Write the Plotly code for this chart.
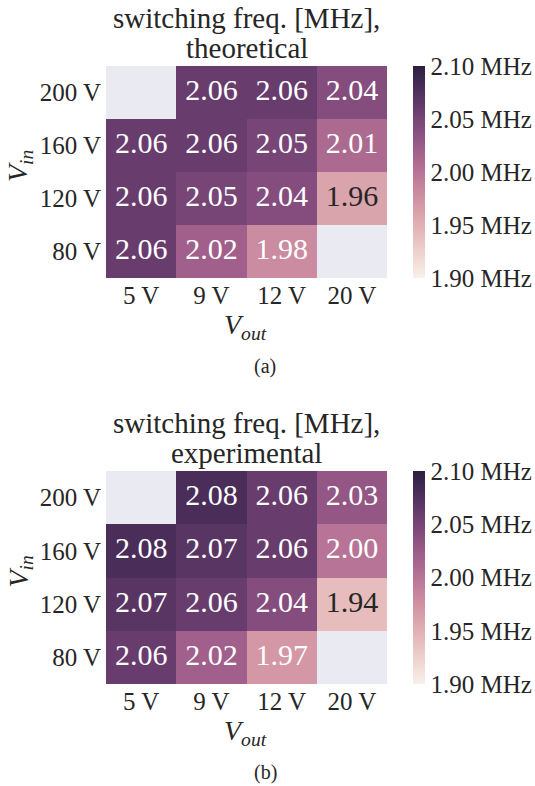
import numpy as np
import plotly.graph_objects as go

# ---------------- data ----------------
vout = ["5 V", "9 V", "12 V", "20 V"]
vin = ["80 V", "120 V", "160 V", "200 V"]  # bottom -> top

theoretical = [
    [2.06, 2.02, 1.98, None],   # 80 V
    [2.06, 2.05, 2.04, 1.96],   # 120 V
    [2.06, 2.06, 2.05, 2.01],   # 160 V
    [None, 2.06, 2.06, 2.04],   # 200 V
]
experimental = [
    [2.06, 2.02, 1.97, None],   # 80 V
    [2.07, 2.06, 2.04, 1.94],   # 120 V
    [2.08, 2.07, 2.06, 2.00],   # 160 V
    [None, 2.08, 2.06, 2.03],   # 200 V
]
cbar_vals = [1.90, 1.95, 2.00, 2.05, 2.10]
cbar_text = ["1.90 MHz", "1.95 MHz", "2.00 MHz", "2.05 MHz", "2.10 MHz"]
ZMIN, ZMAX = 1.90, 2.10

# ---------------- colormap (seaborn-like cubehelix) ----------------
def cubehelix_rgb(x, start=0.0, rot=0.4, gamma=1.0, hue=0.8):
    xg = x ** gamma
    a = hue * xg * (1 - xg) / 2
    phi = 2 * np.pi * (start / 3 + rot * x)
    r = xg + a * (-0.14861 * np.cos(phi) + 1.78277 * np.sin(phi))
    g = xg + a * (-0.29227 * np.cos(phi) - 0.90649 * np.sin(phi))
    b = xg + a * (1.97294 * np.cos(phi))
    return [float(np.clip(c, 0, 1)) for c in (r, g, b)]

LIGHT, DARK = 0.95, 0.15

def frac_to_rgb(f):
    return cubehelix_rgb(LIGHT - f * (LIGHT - DARK))

stops = np.linspace(0, 1, 21)
colorscale = []
for s in stops:
    r, g, b = frac_to_rgb(s)
    colorscale.append([float(s), f"rgb({r*255:.0f},{g*255:.0f},{b*255:.0f})"])

def lum(rgb):
    lin = [c / 12.92 if c <= 0.03928 else ((c + 0.055) / 1.055) ** 2.4 for c in rgb]
    return 0.2126 * lin[0] + 0.7152 * lin[1] + 0.0722 * lin[2]

W, H = 535, 786
def px(x):
    return x / W
def py(y):
    return 1 - y / H

FONT = "Liberation Serif, Times New Roman, serif"
TXT = "#262626"

fig = go.Figure()

panels = [
    (theoretical, "x", "y", 66, 278, "theoretical", "(a)"),
    (experimental, "x2", "y2", 471, 684, "experimental", "(b)"),
]

annotations = []
for data, xa, ya, top, bot, sub, lab in panels:
    z = [[np.nan if v is None else v for v in row] for row in data]
    fig.add_trace(go.Heatmap(
        x=vout, y=vin, z=z, xaxis=xa, yaxis=ya,
        zmin=ZMIN, zmax=ZMAX, colorscale=colorscale, hoverongaps=False,
        colorbar=dict(
            x=px(413), xanchor="left", xpad=0, ypad=0,
            y=py((top + bot) / 2), yanchor="middle",
            len=(bot - top) / H, lenmode="fraction", thickness=12,
            outlinewidth=0, ticks="", tickvals=cbar_vals, ticktext=cbar_text,
            tickfont=dict(family=FONT, size=25, color=TXT),
        ),
    ))
    tx, ty, tt, tc = [], [], [], []
    for i, row in enumerate(data):
        for j, v in enumerate(row):
            if v is None:
                continue
            f = (v - ZMIN) / (ZMAX - ZMIN)
            col = frac_to_rgb(f)
            tx.append(vout[j]); ty.append(vin[i]); tt.append(f"{v:.2f}")
            tc.append(TXT if lum(col) > 0.408 else "white")
    fig.add_trace(go.Scatter(
        x=tx, y=ty, text=tt, mode="text", xaxis=xa, yaxis=ya,
        textfont=dict(family=FONT, size=30, color=tc),
        hoverinfo="skip", showlegend=False,
    ))
    cx = (106 + 387) / 2
    annotations += [
        dict(text="switching freq. [MHz],", x=px(cx), y=py(top - 48), xref="paper", yref="paper",
             showarrow=False, font=dict(family=FONT, size=29, color=TXT), xanchor="center", yanchor="middle"),
        dict(text=sub, x=px(cx), y=py(top - 18), xref="paper", yref="paper",
             showarrow=False, font=dict(family=FONT, size=29, color=TXT), xanchor="center", yanchor="middle"),
        dict(text="<i>V</i><sub><i>out</i></sub>", x=px(245), y=py(bot + 48), xref="paper", yref="paper",
             showarrow=False, font=dict(family=FONT, size=28, color=TXT), xanchor="center", yanchor="middle"),
        dict(text="<i>V</i><sub><i>in</i></sub>", x=px(20), y=py((top + bot) / 2 - 6), xref="paper", yref="paper",
             showarrow=False, textangle=-90, font=dict(family=FONT, size=28, color=TXT),
             xanchor="center", yanchor="middle"),
        dict(text=lab, x=px(265), y=py(bot + 88), xref="paper", yref="paper",
             showarrow=False, font=dict(family=FONT, size=20, color=TXT), xanchor="center", yanchor="middle"),
    ]

axis_common = dict(type="category", showgrid=False, zeroline=False, ticks="", showline=False,
                   tickfont=dict(family=FONT, size=25, color=TXT), range=[-0.5, 3.5], fixedrange=True)

fig.update_layout(
    width=W, height=H, margin=dict(l=0, r=0, t=0, b=0),
    paper_bgcolor="white", plot_bgcolor="#EAEAF2",
    showlegend=False,
    xaxis=dict(domain=[px(106), px(387)], anchor="y", **axis_common),
    yaxis=dict(domain=[py(278), py(66)], anchor="x", ticklabelstandoff=4, **axis_common),
    xaxis2=dict(domain=[px(106), px(387)], anchor="y2", **axis_common),
    yaxis2=dict(domain=[py(684), py(471)], anchor="x2", ticklabelstandoff=4, **axis_common),
    annotations=annotations,
    font=dict(family=FONT, color=TXT),
)

fig.write_html("out.html")
